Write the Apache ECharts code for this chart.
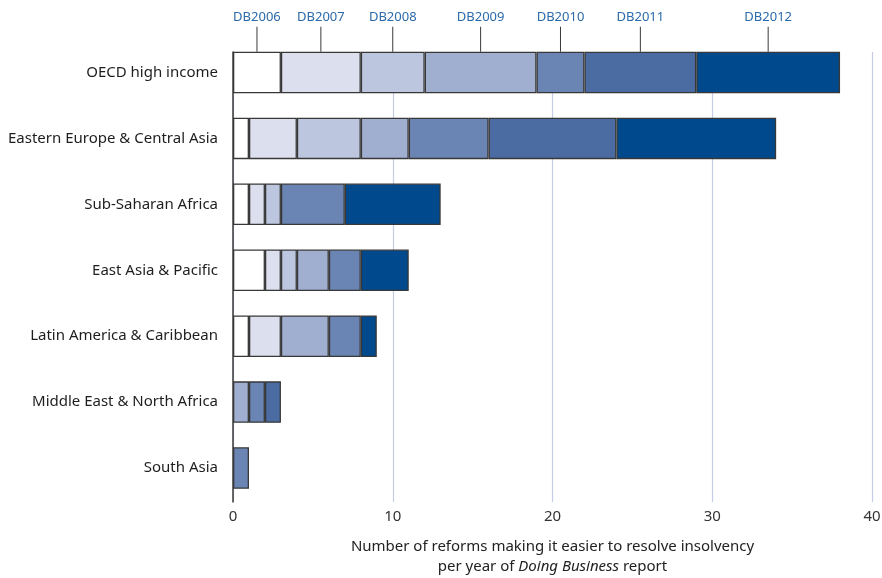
<!DOCTYPE html>
<html>
<head>
<meta charset="utf-8">
<script src="https://cdn.jsdelivr.net/npm/echarts@6/dist/echarts.min.js"></script>
<style>
  html, body { margin: 0; padding: 0; background: #fff; }
  #chart { width: 882px; height: 578px; }
</style>
</head>
<body>
<div id="chart"></div>
<script>
// Regions, top to bottom
const regions = [
  'OECD high income',
  'Eastern Europe & Central Asia',
  'Sub-Saharan Africa',
  'East Asia & Pacific',
  'Latin America & Caribbean',
  'Middle East & North Africa',
  'South Asia'
];

// Report years (stack segments, left to right)
const reports = ['DB2006', 'DB2007', 'DB2008', 'DB2009', 'DB2010', 'DB2011', 'DB2012'];

// Number of insolvency reforms per region, one array per report year
const db2006 = [3, 1, 1, 2, 1, 0, 0];
const db2007 = [5, 3, 1, 1, 2, 0, 0];
const db2008 = [4, 4, 1, 1, 0, 0, 0];
const db2009 = [7, 3, 0, 2, 3, 1, 0];
const db2010 = [3, 5, 4, 2, 2, 1, 1];
const db2011 = [7, 8, 0, 0, 0, 1, 0];
const db2012 = [9, 10, 6, 3, 1, 0, 0];

const seriesValues = [db2006, db2007, db2008, db2009, db2010, db2011, db2012];
const colors = ['#ffffff', '#dcdfee', '#bcc6df', '#a0aed0', '#6a84b4', '#4a6ca3', '#00498d'];

const FONT = 'Noto Sans';

const series = reports.map((name, s) => ({
  name: name,
  type: 'bar',
  stack: 'total',
  xAxisIndex: 0,
  yAxisIndex: 0,
  barCategoryGap: '37%',
  itemStyle: { color: colors[s], borderColor: '#383838', borderWidth: 1.3 },
  emphasis: { disabled: true },
  data: seriesValues[s].map((v, i) => {
    if (i === 0) {
      // Year labels with a pointer line sit above the top bar
      return {
        value: v,
        label: {
          show: true,
          position: 'top',
          distance: 0,
          formatter: '{n|' + name + '}\n{t|}',
          rich: {
            n: { color: '#2b6aaa', fontSize: 13, fontFamily: FONT, lineHeight: 18, align: 'center' },
            t: { width: 1, height: 25, backgroundColor: '#3a3a3a', align: 'center' }
          }
        }
      };
    }
    return v === 0 ? '-' : v;
  })
}));

const chart = echarts.init(document.getElementById('chart'), null, { renderer: 'canvas' });
chart.setOption({
  animation: false,
  backgroundColor: '#ffffff',
  textStyle: { fontFamily: FONT },
  grid: [
    { left: 233, right: 10, top: 39.5, bottom: 77, containLabel: false, outerBoundsMode: 'none' },
    { left: 233, right: 10, top: 52, bottom: 76, containLabel: false, outerBoundsMode: 'none' }
  ],
  xAxis: [
    {
      gridIndex: 0,
      type: 'value',
      min: 0,
      max: 40,
      interval: 10,
      axisLine: { show: false },
      axisTick: { show: false },
      splitLine: { show: false },
      axisLabel: { color: '#333333', fontSize: 15, fontFamily: FONT, margin: 8 },
      name: '{a|Number of reforms making it easier to resolve insolvency}\n{a|per year of }{i|Doing Business}{a| report}',
      nameLocation: 'middle',
      nameGap: 36,
      nameTextStyle: {
        rich: {
          a: { color: '#222222', fontSize: 15, fontFamily: FONT, lineHeight: 20 },
          i: { color: '#222222', fontSize: 15, fontFamily: FONT, fontStyle: 'italic', lineHeight: 20 }
        }
      }
    },
    {
      gridIndex: 1,
      type: 'value',
      min: 0,
      max: 40,
      interval: 10,
      axisLine: { show: false },
      axisTick: { show: false },
      axisLabel: { show: false },
      splitLine: { show: true, lineStyle: { color: '#c6cce3', width: 1.2 } }
    }
  ],
  yAxis: [
    {
      gridIndex: 0,
      type: 'category',
      inverse: true,
      data: regions,
      axisLine: { show: false },
      axisTick: { show: false },
      axisLabel: { color: '#1e1e1e', fontSize: 15, fontFamily: FONT, margin: 15 }
    },
    {
      gridIndex: 1,
      type: 'value',
      min: 0,
      max: 1,
      axisLine: { show: true, lineStyle: { color: '#3a3a3a', width: 1.5 } },
      axisTick: { show: false },
      axisLabel: { show: false },
      splitLine: { show: false }
    }
  ],
  series: series
});
</script>
</body>
</html>
